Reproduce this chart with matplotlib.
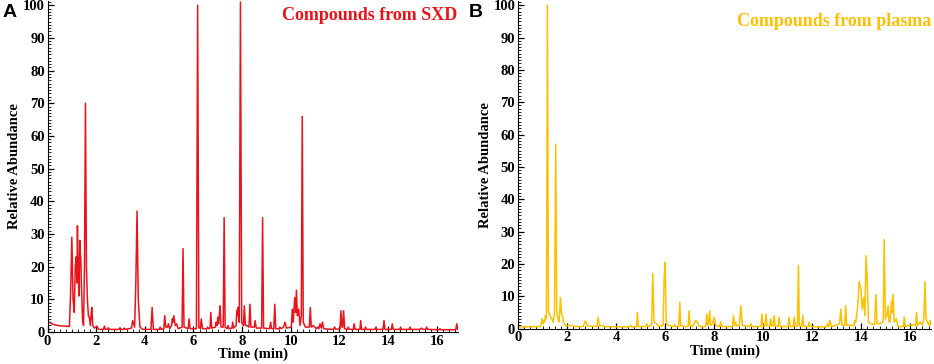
import matplotlib
matplotlib.use("Agg")
import matplotlib.pyplot as plt
from matplotlib.ticker import MultipleLocator

# ---- chromatogram A : compounds from SXD (time in min, relative abundance) ----
rt_sxd = [0, 0.05, 0.15, 0.3, 0.5, 0.9,
          0.95, 1.0, 1.05, 1.1, 1.14, 1.18, 1.21, 1.23, 1.26, 1.29, 1.31, 1.33, 1.35, 1.37, 1.39, 1.41, 1.44, 1.48,
          1.52, 1.56, 1.6, 1.64, 1.68, 1.72, 1.76, 1.79, 1.82, 1.86, 1.92, 2.03, 2.1,
          2.3, 2.34, 2.38, 2.47, 2.5, 2.55,
          2.95, 2.98, 3.02, 3.12, 3.15, 3.2,
          3.45, 3.5, 3.58, 3.63, 3.68, 3.73, 3.8, 3.92,
          4.25, 4.3, 4.35,
          4.6, 4.63, 4.67, 4.78, 4.82, 4.86, 4.93, 4.97, 5.02, 5.1, 5.13, 5.16, 5.19, 5.25, 5.31, 5.37,
          5.53, 5.57, 5.61, 5.78, 5.82, 5.86,
          6.12, 6.17, 6.22, 6.28, 6.32, 6.37,
          6.55, 6.58, 6.62, 6.68, 6.71, 6.75, 6.9, 6.93, 6.97, 7.0, 7.03, 7.06, 7.09, 7.13, 7.22, 7.26, 7.3,
          7.38, 7.42, 7.46, 7.58, 7.61, 7.65, 7.75, 7.78, 7.81, 7.83, 7.88, 7.93, 7.98, 8.05, 8.09, 8.13, 8.19,
          8.28, 8.32, 8.36, 8.5, 8.53, 8.58,
          8.8, 8.84, 8.88, 9.13, 9.17, 9.21, 9.3, 9.34, 9.38, 9.52, 9.55, 9.6, 9.7, 9.76, 9.82,
          10.02, 10.06, 10.1, 10.16, 10.2, 10.23, 10.27, 10.32, 10.38, 10.43, 10.47, 10.51, 10.6, 10.76, 10.8,
          10.84, 10.92,
          11.05, 11.1, 11.15, 11.2, 11.25, 11.3, 11.35,
          11.75, 11.8, 11.85, 12.02, 12.06, 12.1, 12.13, 12.17, 12.21,
          12.33, 12.36, 12.4, 12.57, 12.6, 12.64, 12.84, 12.87, 12.91, 13.04, 13.07, 13.1,
          13.47, 13.5, 13.53, 13.79, 13.83, 13.87, 14.13, 14.17, 14.21, 14.48, 14.51, 14.55, 14.87, 14.9, 14.93,
          15.3, 15.37, 15.44, 15.55, 15.58, 15.62, 16.1, 16.13, 16.16, 16.78, 16.82, 16.86]
ab_sxd = [4.0, 3.2, 2.6, 2.2, 1.9, 1.7,
          12, 29, 10, 6, 20, 23, 15, 32.5, 20, 11, 20, 28, 24, 22.5, 15, 11, 4, 2,
          20, 70, 20, 10, 5, 4.5, 2, 5, 7.5, 2, 1.2, 1.8, 0.8,
          0.8, 1.8, 0.8, 0.8, 1.3, 0.8,
          0.8, 1.3, 0.8, 0.8, 1.2, 0.8,
          1.2, 3.5, 1.5, 15, 37, 10, 1.5, 0.8,
          0.8, 7.5, 0.8,
          0.8, 1.5, 0.8, 1, 5, 1.5, 1.5, 2.5, 1, 2, 4, 3, 5, 2, 2.5, 1,
          1.5, 25.5, 1.5, 1, 4, 1,
          1, 100, 1.5, 1, 4, 1,
          1, 1.5, 1, 1.2, 6, 1.2, 1.5, 3, 2, 4.5, 2.5, 5, 8, 1.5, 1.5, 35, 1.5,
          1, 2, 1, 1.2, 3, 1.2, 2, 6.5, 5, 7.5, 3, 101, 3, 2, 8, 2, 2,
          1.5, 8.5, 1.5, 1.5, 3.5, 1.2,
          1.2, 35, 1.2, 1, 3, 1, 1, 8.5, 1, 1, 1.5, 1, 1.5, 3, 1.2,
          1.5, 7, 3, 10.5, 6, 12.8, 5, 7, 2, 5, 66, 3, 1.5, 1.5, 7.5,
          1.5, 2,
          1, 1.5, 1, 2.5, 1.2, 3, 1,
          0.8, 1.5, 0.8, 1, 6.5, 1.5, 1.5, 6.5, 1,
          0.8, 1.5, 0.8, 0.8, 2.5, 0.8, 0.8, 3.5, 0.8, 0.8, 1.5, 0.8,
          0.8, 1.5, 0.8, 0.8, 3.5, 0.8, 0.8, 2.5, 0.8, 0.8, 1.5, 0.8, 0.8, 1.5, 0.8,
          0.8, 1.2, 0.8, 0.8, 1.5, 0.8, 0.7, 1, 0.7, 0.7, 2.5, 0.8]

# ---- chromatogram B : compounds from plasma ----
rt_plasma = [0, 0.9, 0.95, 0.99, 1.03, 1.06, 1.09, 1.12, 1.16, 1.2, 1.24, 1.29, 1.33, 1.37, 1.41, 1.44, 1.49,
             1.54, 1.58, 1.63, 1.68, 1.73, 1.77, 1.81, 1.85, 1.88, 1.95, 2.15, 2.3,
             2.65, 2.75, 2.83, 3.22, 3.27, 3.32, 3.37, 3.5,
             4.5, 4.6, 4.65, 4.84, 4.87, 4.91, 5.2, 5.25, 5.3, 5.45, 5.5, 5.55, 5.66, 5.72,
             5.92, 5.96, 6.0, 6.05, 6.12, 6.35, 6.39, 6.43, 6.56, 6.6, 6.64, 6.71, 6.75, 6.94, 6.98, 7.02,
             7.15, 7.25, 7.32, 7.4, 7.66, 7.7, 7.74, 7.78, 7.82, 7.86, 7.94, 8.0, 8.06, 8.22, 8.27, 8.32,
             8.75, 8.79, 8.83, 8.88, 8.92, 9.03, 9.09, 9.15, 9.45, 9.5, 9.55,
             9.91, 9.95, 9.99, 10.08, 10.12, 10.16, 10.27, 10.31, 10.35, 10.41, 10.45, 10.49, 10.61, 10.65, 10.69,
             11.02, 11.06, 11.1, 11.23, 11.27, 11.31, 11.4, 11.44, 11.48, 11.58, 11.62, 11.66, 11.84, 11.88, 11.92,
             12.59, 12.63, 12.67, 12.73, 12.78, 12.97, 13.12, 13.17, 13.22, 13.33, 13.37, 13.41, 13.58, 13.7,
             13.74, 13.78,
             13.85, 13.92, 13.99, 14.04, 14.1, 14.15, 14.2, 14.25, 14.3, 14.39, 14.55, 14.6, 14.65, 14.73,
             14.9, 14.94, 14.99, 15.05, 15.1, 15.14, 15.18, 15.24, 15.27, 15.3, 15.35, 15.44, 15.5, 15.72, 15.76,
             15.8,
             16.1, 16.22, 16.26, 16.3, 16.41, 16.5, 16.56, 16.6, 16.65, 16.71, 16.76, 16.82, 16.85]
ab_plasma = [0.5, 0.6, 1.5, 3, 1.5, 2.5, 2, 4, 3, 100, 5, 4.5, 3.5, 3, 2.5, 2, 5,
             57, 5, 3, 2, 9.5, 5, 4, 2, 1.5, 0.8, 1, 0.6,
             0.6, 2.3, 0.8, 0.6, 3.5, 0.8, 1, 0.6,
             0.5, 1, 0.5, 0.6, 5, 0.6, 0.6, 1.5, 0.6, 1, 17, 2, 1.5, 0.6,
             1, 15, 20.5, 2, 1, 0.6, 1.2, 0.6, 0.6, 8, 0.8, 1, 0.6, 0.6, 5.5, 0.8,
             0.8, 2.5, 2, 0.6, 0.6, 4.5, 1, 1.5, 5.5, 1, 1.5, 3.5, 1, 0.6, 2, 0.6,
             0.6, 4, 1, 2, 0.8, 1, 7, 1, 0.6, 1.5, 0.6,
             0.6, 4.5, 0.8, 0.8, 4.5, 0.8, 0.8, 3, 0.8, 0.8, 4, 0.8, 0.6, 3.5, 0.6,
             0.6, 3.5, 0.6, 0.6, 3.5, 0.6, 0.8, 19.5, 0.8, 0.8, 4, 0.6, 0.6, 2, 0.6,
             0.5, 1.5, 0.6, 2.5, 0.6, 1, 1.5, 6, 1, 1, 7, 1, 1, 0.8,
             2.5, 2,
             6, 14.5, 12, 6, 9.5, 4, 22.5, 15, 2, 1.5, 1.2, 10.5, 1.5, 1.5,
             2, 27.5, 3, 4, 7, 2, 2, 8.5, 5, 10.5, 2, 3, 0.6, 0.6, 3.5,
             0.6,
             1.2, 0.8, 5, 1, 2, 1, 3, 14.5, 3, 2, 1, 2.5, 1]

assert len(rt_sxd) == len(ab_sxd) and len(rt_plasma) == len(ab_plasma)

serif = "Liberation Serif"

fig = plt.figure(figsize=(9.34, 3.64), dpi=100)
ax_a = fig.add_axes([47.5 / 934, 32 / 364, 410 / 934, 331 / 364])
ax_b = fig.add_axes([518 / 934, 35.5 / 364, 413 / 934, 327.5 / 364])

panels = [(ax_a, rt_sxd, ab_sxd, "#e8141c", "Compounds from SXD", "A", 3 / 934, 0.982),
          (ax_b, rt_plasma, ab_plasma, "#ffc000", "Compounds from plasma", "B", 469 / 934, 0.962)]

for ax, t, ab, col, title, letter, lx, ty in panels:
    ax.plot(t, ab, color=col, lw=1.1)
    ax.set_xlim(0, 16.85)
    ax.set_ylim(0, 101.3)
    ax.spines["top"].set_visible(False)
    ax.spines["right"].set_visible(False)
    ax.xaxis.set_major_locator(MultipleLocator(2))
    ax.xaxis.set_minor_locator(MultipleLocator(0.25))
    ax.yaxis.set_major_locator(MultipleLocator(10))
    ax.yaxis.set_minor_locator(MultipleLocator(1))
    ax.tick_params(which="both", direction="in", top=False, right=False)
    ax.tick_params(which="major", length=4, width=0.9, pad=2)
    ax.tick_params(which="minor", length=2, width=0.6)
    for lab in ax.get_xticklabels() + ax.get_yticklabels():
        lab.set_fontfamily(serif)
        lab.set_fontweight("bold")
        lab.set_fontsize(10.5)
    ax.set_xlabel("Time (min)", family=serif, fontweight="bold", fontsize=10.5, labelpad=0)
    ax.set_ylabel("Relative Abundance", family=serif, fontweight="bold", fontsize=10.5, labelpad=1)
    ax.text(1.0, ty, title, transform=ax.transAxes, ha="right", va="top",
            color=col, family=serif, fontweight="bold", fontsize=13)
    fig.text(lx, 0.99, letter, ha="left", va="top", family="Liberation Sans",
             fontweight="bold", fontsize=14)

fig.savefig("out.png", dpi=100)
